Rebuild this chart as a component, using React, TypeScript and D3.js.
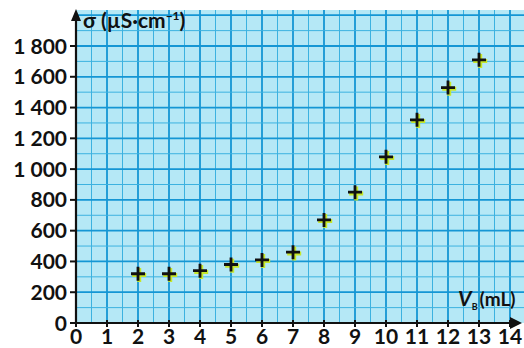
import React, { useEffect, useRef } from "react";
import * as d3 from "d3";

const volumes = [2, 3, 4, 5, 6, 7, 8, 9, 10, 11, 12, 13];
const conductivities = [320, 320, 340, 380, 410, 460, 670, 850, 1080, 1320, 1530, 1710];
const xTicks = [0, 1, 2, 3, 4, 5, 6, 7, 8, 9, 10, 11, 12, 13, 14];
const yTicks = [0, 200, 400, 600, 800, 1000, 1200, 1400, 1600, 1800];

const W = 524;
const H = 348;

export default function App() {
  const svgRef = useRef<SVGSVGElement>(null);

  useEffect(() => {
    document.body.style.margin = "0";
    document.body.style.overflow = "hidden";

    const svg = d3.select(svgRef.current);
    svg.selectAll("*").remove();

    const x = d3.scaleLinear().domain([0, 14]).range([76, 510]);
    const y = d3.scaleLinear().domain([0, 1800]).range([323, 46]);

    const left = x(0);
    const right = W;
    const top = 10;
    const bottom = y(0);

    // graph paper
    svg.append("rect")
      .attr("x", left).attr("y", top)
      .attr("width", right - left).attr("height", bottom - top)
      .attr("fill", "#b5e8f6");

    const grid = svg.append("g");
    const xMax = x.invert(right);
    const yMax = y.invert(top);
    for (let v = 0.5; v <= xMax; v += 0.5) {
      const major = Number.isInteger(v);
      grid.append("line")
        .attr("x1", x(v)).attr("x2", x(v))
        .attr("y1", top).attr("y2", bottom)
        .attr("stroke", major ? "#1596d4" : "#3cb2e0")
        .attr("stroke-width", major ? 1.8 : 1);
    }
    for (let v = 100; v <= yMax; v += 100) {
      const major = v % 200 === 0;
      grid.append("line")
        .attr("x1", left).attr("x2", right)
        .attr("y1", y(v)).attr("y2", y(v))
        .attr("stroke", major ? "#1596d4" : "#3cb2e0")
        .attr("stroke-width", major ? 1.8 : 1);
    }

    // axes
    const axes = svg.append("g").attr("stroke", "#111").attr("fill", "#111");
    axes.append("line")
      .attr("x1", left).attr("x2", right - 8)
      .attr("y1", bottom).attr("y2", bottom)
      .attr("stroke-width", 2.2);
    axes.append("path")
      .attr("d", `M${right - 2},${bottom} L${right - 14},${bottom - 6} L${right - 14},${bottom + 6} Z`)
      .attr("stroke", "none");
    axes.append("line")
      .attr("x1", left).attr("x2", left)
      .attr("y1", bottom).attr("y2", top + 8)
      .attr("stroke-width", 2.2);
    axes.append("path")
      .attr("d", `M${left},${top - 1} L${left - 5},${top + 11} L${left + 5},${top + 11} Z`)
      .attr("stroke", "none");

    xTicks.forEach((t) => {
      axes.append("line")
        .attr("x1", x(t)).attr("x2", x(t))
        .attr("y1", bottom - 3).attr("y2", bottom + 4)
        .attr("stroke-width", 2);
    });
    yTicks.forEach((t) => {
      axes.append("line")
        .attr("x1", left - 6).attr("x2", left)
        .attr("y1", y(t)).attr("y2", y(t))
        .attr("stroke-width", 2);
    });

    const fmt = (v: number) => (v >= 1000 ? `${Math.floor(v / 1000)} ${String(v % 1000).padStart(3, "0")}` : `${v}`);

    const labels = svg.append("g")
      .attr("font-family", "Lato, 'Open Sans', sans-serif")
      .attr("font-weight", 700)
      .attr("font-size", 21)
      .attr("fill", "#111");

    labels.selectAll(".yl")
      .data(yTicks)
      .enter()
      .append("text")
      .attr("x", left - 9)
      .attr("y", (d) => y(d))
      .attr("dy", "0.36em")
      .attr("text-anchor", "end")
      .text((d) => fmt(d));

    labels.selectAll(".xl")
      .data(xTicks)
      .enter()
      .append("text")
      .attr("x", (d) => x(d))
      .attr("y", bottom + 21)
      .attr("text-anchor", "middle")
      .text((d) => d);

    // axis titles
    const sig = svg.append("text")
      .attr("x", left + 7).attr("y", 28)
      .attr("font-family", "Lato, 'Open Sans', sans-serif")
      .attr("font-weight", 700)
      .attr("font-size", 21)
      .attr("fill", "#111");
    sig.append("tspan").text("σ (µS·cm");
    sig.append("tspan").attr("font-size", 12).attr("dy", -8).text("−1");
    sig.append("tspan").attr("dy", 8).text(")");

    const vb = svg.append("text")
      .attr("x", 458).attr("y", 306)
      .attr("font-family", "Lato, 'Open Sans', sans-serif")
      .attr("font-weight", 700)
      .attr("font-size", 19)
      .attr("fill", "#111");
    vb.append("tspan").attr("font-style", "italic").attr("font-size", 21).text("V");
    vb.append("tspan").attr("font-size", 9).attr("dy", 4).text("B");
    vb.append("tspan").attr("dy", -4).attr("dx", 2).text("(mL)");

    // data markers
    const pts = volumes.map((v, i) => ({ v, s: conductivities[i] }));
    const marks = svg.append("g");
    const cross = (g: d3.Selection<SVGGElement, unknown, null, undefined>, dx: number, dy: number, color: string, w: number, r: number) => {
      g.selectAll(null)
        .data(pts)
        .enter()
        .append("path")
        .attr("d", (d) => {
          const cx = x(d.v) + dx;
          const cy = y(d.s) + dy;
          return `M${cx - r},${cy} H${cx + r} M${cx},${cy - r} V${cy + r}`;
        })
        .attr("stroke", color)
        .attr("stroke-width", w)
        .attr("fill", "none");
    };
    cross(marks, 1.2, 1.2, "#c6e62a", 4, 7);
    cross(marks, 0, 0, "#111", 2.8, 7);
  }, []);

  return (
    <div style={{ width: W, height: H, background: "#fff", overflow: "hidden" }}>
      <svg ref={svgRef} width={W} height={H} style={{ display: "block" }}></svg>
    </div>
  );
}
